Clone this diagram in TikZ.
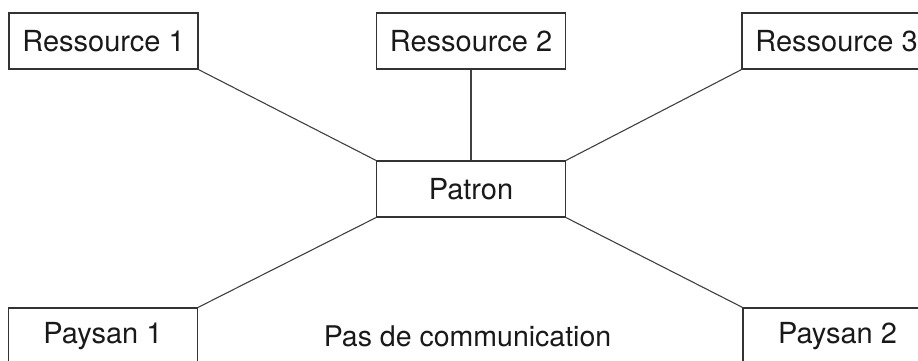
\documentclass[tikz,border=0pt]{standalone}
\usepackage{fontspec}
\setmainfont{TeX Gyre Heros}
\usetikzlibrary{positioning}
\tikzset{
  boite/.style={draw=black!80,line width=1.3pt,minimum width=189pt,minimum height=56pt,inner sep=0pt,font=\fontsize{29}{34}\selectfont},
  texte/.style={font=\fontsize{28.5}{34}\selectfont,text=black!90},
  lien/.style={draw=black!75,line width=1.1pt}
}
\begin{document}
\begin{tikzpicture}[x=1pt,y=-1pt]
\useasboundingbox (0,0) rectangle (918,361);
\clip (0,0) rectangle (918,361);
% en haut : les ressources
\node[boite,text=black!90] (res1) at (103.5,41) {Ressource 1};
\node[boite,text=black!90] (res2) at (471,41) {Ressource 2};
\node[boite,text=black!90] (res3) at (836.5,41) {Ressource 3};
% au milieu : le patron
\node[boite,text=black!90] (patron) at (471,189) {Patron};
% en bas : les paysans
\node[boite,text=black!90] (pay1) at (103,336) {Paysan 1};
\node[boite,text=black!90] (pay2) at (837.5,336) {Paysan 2};
\node[texte] (pascom) at (467.5,336) {Pas de communication};
\draw[lien] (res1.south east) -- (patron.north west);
\draw[lien] (res2.south) -- (patron.north);
\draw[lien] (res3.south west) -- (patron.north east);
\draw[lien] (patron.south west) -- (pay1.north east);
\draw[lien] (patron.south east) -- (pay2.north west);
\end{tikzpicture}
\end{document}
